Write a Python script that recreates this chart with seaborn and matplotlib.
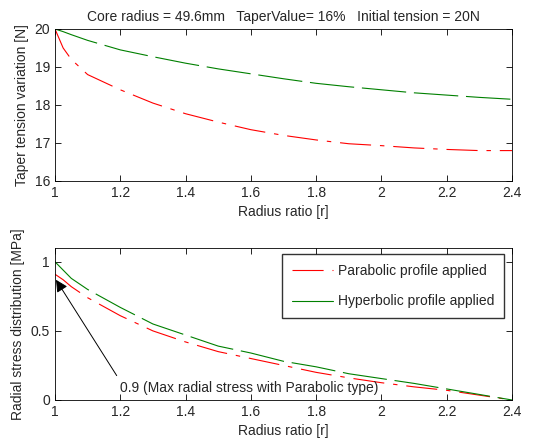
import numpy as np
import pandas as pd
import matplotlib.pyplot as plt
import seaborn as sns
from matplotlib.lines import Line2D

# radius ratio samples
r_vals = [1.0, 1.025, 1.05, 1.1, 1.2, 1.3, 1.4, 1.5, 1.6, 1.7, 1.8, 1.9, 2.0, 2.1, 2.2, 2.3, 2.4]

# taper tension [N]
tension_parabolic = [20.0, 19.5, 19.2, 18.8, 18.4, 18.05, 17.77, 17.55, 17.35, 17.2, 17.08, 16.98, 16.93, 16.87, 16.83, 16.8, 16.8]
tension_hyperbolic = [20.0, 19.93, 19.85, 19.7, 19.45, 19.27, 19.1, 18.95, 18.82, 18.69, 18.57, 18.48, 18.4, 18.32, 18.26, 18.2, 18.15]

# radial stress [MPa]
stress_parabolic = [0.91, 0.87, 0.82, 0.74, 0.61, 0.5, 0.42, 0.35, 0.3, 0.25, 0.2, 0.16, 0.125, 0.095, 0.07, 0.035, 0.0]
stress_hyperbolic = [1.0, 0.94, 0.88, 0.8, 0.67, 0.55, 0.47, 0.39, 0.34, 0.28, 0.24, 0.19, 0.155, 0.12, 0.08, 0.04, 0.0]

labels = ['Parabolic profile applied', 'Hyperbolic profile applied']
colors = ['#ff0000', '#008000']

sns.set_style('ticks')
plt.rcParams['font.family'] = ['Liberation Sans', 'DejaVu Sans']
plt.rcParams['xtick.direction'] = 'in'
plt.rcParams['ytick.direction'] = 'in'

fig = plt.figure(figsize=(5.46, 4.41), dpi=100)
ax1 = fig.add_axes([0.1007, 0.5896, 0.837, 0.3447])
ax2 = fig.add_axes([0.1007, 0.093, 0.837, 0.3447])

top = pd.DataFrame({'r': r_vals * 2,
                    'value': tension_parabolic + tension_hyperbolic,
                    'profile': [labels[0]] * len(r_vals) + [labels[1]] * len(r_vals)})
bot = pd.DataFrame({'r': r_vals * 2,
                    'value': stress_parabolic + stress_hyperbolic,
                    'profile': [labels[0]] * len(r_vals) + [labels[1]] * len(r_vals)})

red_dash = (28, 8, 4, 8)
dashes = {labels[0]: red_dash, labels[1]: (40, 7)}
pal = dict(zip(labels, colors))

sns.lineplot(data=top, x='r', y='value', hue='profile', style='profile', dashes=dashes,
             palette=pal, ax=ax1, linewidth=0.8, legend=False)
sns.lineplot(data=bot, x='r', y='value', hue='profile', style='profile', dashes=dashes,
             palette=pal, ax=ax2, linewidth=0.8, legend=False)

for ax in (ax1, ax2):
    ax.set_xlim(1, 2.4)
    ax.set_xticks([1, 1.2, 1.4, 1.6, 1.8, 2, 2.2, 2.4])
    ax.set_xticklabels(['1', '1.2', '1.4', '1.6', '1.8', '2', '2.2', '2.4'])
    ax.tick_params(top=True, right=True, labelsize=10, length=4, width=0.6, color='black')
    for s in ax.spines.values():
        s.set_visible(True)
        s.set_linewidth(0.6)
        s.set_color('black')
    ax.set_xlabel('Radius ratio [r]', fontsize=10)

ax1.set_ylim(16, 20)
ax1.set_yticks([16, 17, 18, 19, 20])
ax1.set_ylabel('Taper tension variation [N]', fontsize=10)
ax1.set_title('Core radius = 49.6mm   TaperValue= 16%   Initial tension = 20N', fontsize=10)

ax2.set_ylim(0, 1.1)
ax2.set_yticks([0, 0.5, 1])
ax2.set_yticklabels(['0', '0.5', '1'])
ax2.set_ylabel('Radial stress distribution [MPa]', fontsize=10)

ax2.annotate('0.9 (Max radial stress with Parabolic type)', xy=(1.003, 0.87), xytext=(1.2, 0.085),
             fontsize=10, ha='left', va='center',
             arrowprops=dict(arrowstyle='-|>', color='black', lw=0.7, mutation_scale=18,
                             relpos=(0.0, 1.0), shrinkA=2, shrinkB=0))

handles = [Line2D([], [], color=colors[0], lw=0.8, dashes=red_dash),
           Line2D([], [], color=colors[1], lw=0.8)]
leg = ax2.legend(handles, labels, loc='upper right', bbox_to_anchor=(0.982, 0.96),
                 fontsize=10, frameon=True, fancybox=False, handlelength=3.0,
                 borderpad=0.7, labelspacing=1.2, handletextpad=0.3, borderaxespad=0)
leg.get_frame().set_edgecolor('black')
leg.get_frame().set_linewidth(1.0)

plt.savefig('out.png', dpi=100)
